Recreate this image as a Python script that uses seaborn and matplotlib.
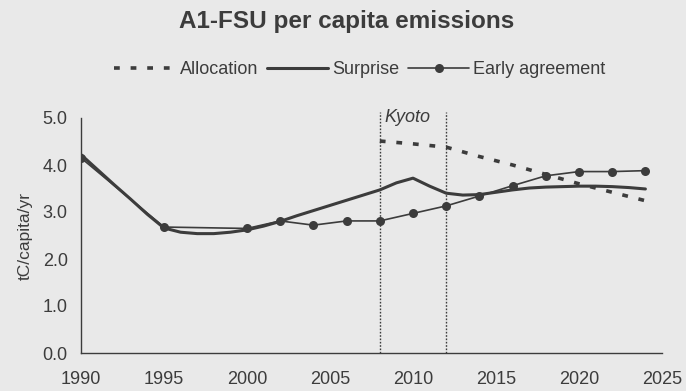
import matplotlib
matplotlib.use("Agg")
import matplotlib.pyplot as plt
import seaborn as sns
import pandas as pd

# Series values (tC per capita per year)
surprise_years = list(range(1990, 2025))
surprise_vals = [4.22, 3.90, 3.58, 3.27, 2.95, 2.66, 2.57, 2.54, 2.54, 2.57,
                 2.62, 2.70, 2.80, 2.92, 3.03, 3.14, 3.25, 3.36, 3.47, 3.62,
                 3.72, 3.55, 3.40, 3.36, 3.37, 3.42, 3.47, 3.51, 3.53, 3.54,
                 3.55, 3.55, 3.54, 3.52, 3.49]

early_years = [1990, 1995, 2000, 2002, 2004, 2006, 2008, 2010, 2012, 2014,
               2016, 2018, 2020, 2022, 2024]
early_vals = [4.15, 2.68, 2.65, 2.81, 2.72, 2.81, 2.81, 2.97, 3.13, 3.34,
              3.56, 3.77, 3.86, 3.86, 3.88]

alloc_years = [2008, 2010, 2012, 2014, 2016, 2018, 2020, 2022, 2024]
alloc_vals = [4.51, 4.45, 4.38, 4.18, 4.00, 3.80, 3.60, 3.42, 3.24]

kyoto_years = [2008, 2012]
x_ticks = [1990, 1995, 2000, 2005, 2010, 2015, 2020, 2025]
y_ticks = [0.0, 1.0, 2.0, 3.0, 4.0, 5.0]

surprise = pd.DataFrame({"year": surprise_years, "value": surprise_vals})
early = pd.DataFrame({"year": early_years, "value": early_vals})
alloc = pd.DataFrame({"year": alloc_years, "value": alloc_vals})

bg = "#e9e9e9"
ink = "#3c3c3c"

sns.set_theme(style="white")
plt.rcParams["font.family"] = ["Liberation Sans", "DejaVu Sans"]

fig = plt.figure(figsize=(6.86, 3.91), dpi=100, facecolor=bg)
ax = fig.add_axes([81 / 686, 1 - 353 / 391, (662 - 81) / 686, (353 - 118) / 391])
ax.set_facecolor(bg)

sns.lineplot(data=alloc, x="year", y="value", ax=ax, color=ink,
             linewidth=2.6, label="Allocation")
ax.lines[-1].set_dashes([1.6, 3.0])
sns.lineplot(data=surprise, x="year", y="value", ax=ax, color=ink,
             linewidth=2.2, label="Surprise")
sns.lineplot(data=early, x="year", y="value", ax=ax, color=ink,
             linewidth=1.2, marker="o", markersize=6.5, markeredgewidth=0,
             label="Early agreement")

# Kyoto commitment period
for yr in kyoto_years:
    ax.plot([yr, yr], [0, 5.12], color=ink, linestyle=(0, (1.2, 1.2)),
            linewidth=1.0, clip_on=False)
ax.text(2008.3, 5.0, "Kyoto", style="italic", fontsize=13, color=ink,
        ha="left", va="center")

ax.set_xlim(1990, 2025)
ax.set_ylim(0, 5.0)
ax.set_xticks(x_ticks)
ax.set_yticks(y_ticks)
ax.set_yticklabels([f"{v:.1f}" for v in y_ticks])
ax.tick_params(axis="both", direction="out", length=5, width=1, color=ink,
               labelsize=13, labelcolor=ink, pad=4.5)
ax.tick_params(axis="x", pad=8)
ax.set_xlabel("")
ax.set_ylabel("tC/capita/yr", fontsize=12.5, color=ink, labelpad=7)

for side in ("top", "right"):
    ax.spines[side].set_visible(False)
for side in ("left", "bottom"):
    ax.spines[side].set_color(ink)
    ax.spines[side].set_linewidth(1.0)

leg = ax.legend(loc="center", bbox_to_anchor=(0.48, 1.205), ncol=3,
                frameon=False, fontsize=13, handlelength=3.4,
                columnspacing=0.5, handletextpad=0.2)
for t in leg.get_texts():
    t.set_color(ink)

fig.text(0.505, 0.946, "A1-FSU per capita emissions", ha="center",
         va="center", fontsize=17.5, fontweight="bold", color=ink)

fig.savefig("out.png", dpi=100, facecolor=bg)
